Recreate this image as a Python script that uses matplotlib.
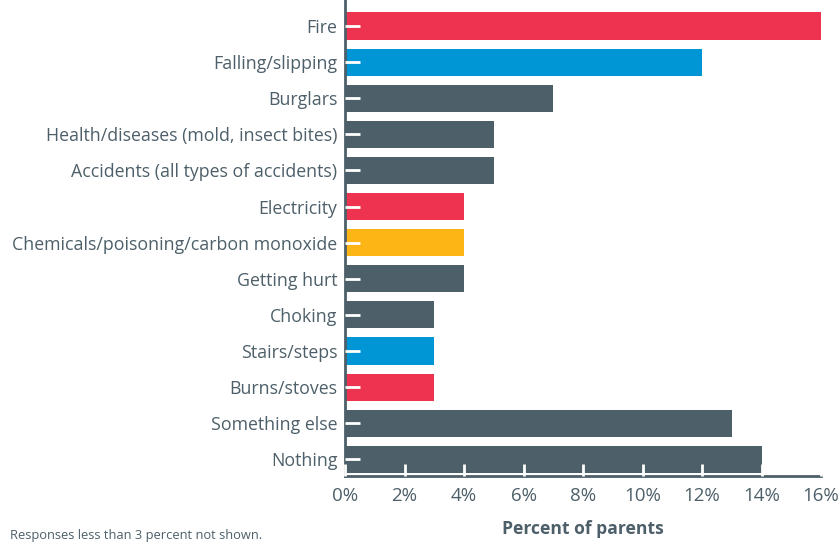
import matplotlib
matplotlib.use("Agg")
import matplotlib.pyplot as plt

categories = ["Fire", "Falling/slipping", "Burglars", "Health/diseases (mold, insect bites)",
              "Accidents (all types of accidents)", "Electricity",
              "Chemicals/poisoning/carbon monoxide", "Getting hurt", "Choking",
              "Stairs/steps", "Burns/stoves", "Something else", "Nothing"]
values = [16, 12, 7, 5, 5, 4, 4, 4, 3, 3, 3, 13, 14]
RED, BLUE, GRAY, YEL = "#EE3350", "#0096D6", "#4D5F69", "#FDB515"
colors = [RED, BLUE, GRAY, GRAY, GRAY, RED, YEL, GRAY, GRAY, BLUE, RED, GRAY, GRAY]
xticks = [0, 2, 4, 6, 8, 10, 12, 14, 16]
xticklabels = ["0%", "2%", "4%", "6%", "8%", "10%", "12%", "14%", "16%"]

TXT = "#4D5F69"
plt.rcParams['font.family'] = ['Open Sans', 'DejaVu Sans']

fig = plt.figure(figsize=(8.4, 5.42), dpi=100)
ax = fig.add_axes([345/840, 1-476/542, (821-345)/840, 476/542])

y = list(range(len(categories)))
ax.barh(y, values, height=0.75, color=colors, zorder=2)
ax.set_ylim(len(categories) - 1 + 0.46, -0.72)
ax.set_xlim(0, 16)

ax.set_yticks(y)
ax.set_yticklabels(categories, fontsize=12.8, color=TXT)
ax.tick_params(axis='y', direction='in', length=11, width=2, color='white', pad=5.5)
ax.set_xticks(xticks)
ax.set_xticklabels(xticklabels, fontsize=13.5, color=TXT)
ax.tick_params(axis='x', direction='in', length=9, width=2, color='white', pad=8)
for t in ax.xaxis.get_major_ticks()[-1:]:
    t.tick1line.set_color(TXT)
for t in ax.yaxis.get_major_ticks() + ax.xaxis.get_major_ticks():
    t.tick1line.set_zorder(5)
ax.set_axisbelow(False)

for s in ["top", "right"]:
    ax.spines[s].set_visible(False)
for s in ["left", "bottom"]:
    ax.spines[s].set_color(TXT)
    ax.spines[s].set_linewidth(2)

ax.set_xlabel("Percent of parents", fontsize=12.6, fontweight='bold', color=TXT, labelpad=11)
fig.text(10/840, 1-536/542, "Responses less than 3 percent not shown.", fontsize=9.3,
         color=TXT, va='center', ha='left')

fig.savefig("out.png", dpi=100)
